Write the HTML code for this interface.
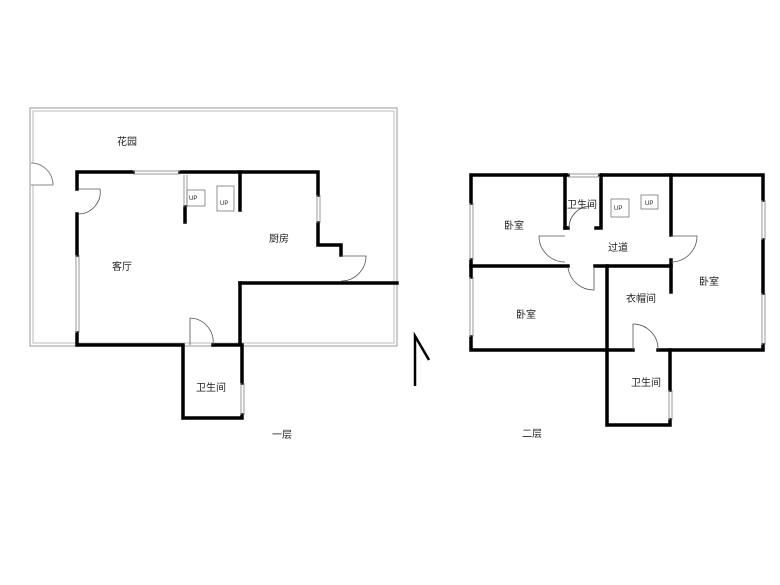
<!DOCTYPE html>
<html><head><meta charset="utf-8"><style>
html,body{margin:0;padding:0;background:#fff;width:780px;height:585px;overflow:hidden}
text{font-family:"Liberation Sans","Noto Sans CJK SC",sans-serif;font-size:10px;fill:#222}
</style></head><body>
<svg width="780" height="585" viewBox="0 0 780 585" xmlns="http://www.w3.org/2000/svg">
<g fill="none" stroke="#999" stroke-width="1">
<rect x="30" y="108" width="367" height="238"/>
<rect x="33" y="111" width="361" height="232" stroke="#bbb"/>
</g>
<rect x="31" y="163" width="18" height="22" fill="#fff"/>
<path d="M31 163 A22 22 0 0 1 53 185 L31 185" fill="none" stroke="#888" stroke-width="1"/>
<g stroke="#000" stroke-width="3.5" fill="none" stroke-linecap="square">
<path d="M77 189 V172 H133"/>
<path d="M180 172 H318 V195"/>
<path d="M318 223 V245 H341 V255"/>
<path d="M77 214 V255"/>
<path d="M77 333 V345 H183 V418 H242 V415"/>
<path d="M213 345 H240 V283"/>
<path d="M240 283 H397"/>
<path d="M242 345 V383"/>
<path d="M185 207 V222"/>
<path d="M240 172 V210"/>
<path d="M471 203 V175 H568"/>
<path d="M600 175 H763 V200"/>
<path d="M763 240 V293"/>
<path d="M471 260 V277"/>
<path d="M471 337 V350 H633"/>
<path d="M658 350 H763 V345"/>
<path d="M565 175 V228"/>
<path d="M601 175 V228 H596"/>
<path d="M671 175 V235"/>
<path d="M671 260 V292"/>
<path d="M471 266 H568"/>
<path d="M595 266 H671"/>
<path d="M607 266 V425 H670 V420"/>
<path d="M670 350 V390"/>
<path d="M565 228 H568"/>
</g>
<g stroke="#999" stroke-width="1" fill="none">
<path d="M133 171 H180 M133 174 H180"/>
<path d="M76 255 V333 M79 255 V333"/>
<path d="M317 195 V223 M320 195 V223"/>
<path d="M184 175 V207 M187 175 V207"/>
<path d="M241 383 V415 M244 383 V415"/>
<path d="M470 203 V260 M473 203 V260"/>
<path d="M470 277 V337 M473 277 V337"/>
<path d="M762 200 V240 M765 200 V240"/>
<path d="M762 293 V345 M765 293 V345"/>
<path d="M568 174 H600 M568 177 H600"/>
<path d="M669 390 V420 M672 390 V420"/>
</g>
<g stroke="#555" stroke-width="0.8" fill="none">
<path d="M79 189 H100 A22 22 0 0 1 79 214"/>
<path d="M190 345 V318 A24 24 0 0 1 213 345"/>
<path d="M341 256 H366 A25 25 0 0 1 341 281"/>
<path d="M569 228 A22 22 0 0 1 591 206"/>
<path d="M565 236 H539 A26 26 0 0 0 565 262"/>
<path d="M671 236 H697 A26 26 0 0 1 671 262"/>
<path d="M568 268 A26 26 0 0 0 594 290 V268"/>
<path d="M633 350 V324 A25 25 0 0 1 658 350"/>
</g>
<g stroke="#777" stroke-width="0.8" fill="none">
<rect x="187" y="190" width="18" height="16"/>
<rect x="217" y="186" width="17" height="25"/>
<rect x="611" y="199" width="18" height="18"/>
<rect x="641" y="195" width="17" height="14"/>
</g>
<g>
<text x="189" y="200" style="font-size:6px">UP</text>
<text x="220" y="205" style="font-size:6px">UP</text>
<text x="614" y="210" style="font-size:6px">UP</text>
<text x="645" y="205" style="font-size:6px">UP</text>
</g>
<path d="M415 386 V336 L429 360" stroke="#000" stroke-width="2.5" fill="none"/>
<text x="117" y="145">花园</text>
<text x="112" y="270">客厅</text>
<text x="269" y="242">厨房</text>
<text x="196" y="391">卫生间</text>
<text x="272" y="438">一层</text>
<text x="504" y="229">卧室</text>
<text x="567" y="208">卫生间</text>
<text x="608" y="251">过道</text>
<text x="699" y="285">卧室</text>
<text x="626" y="302">衣帽间</text>
<text x="516" y="318">卧室</text>
<text x="631" y="386">卫生间</text>
<text x="522" y="437">二层</text>
</svg>
</body></html>
